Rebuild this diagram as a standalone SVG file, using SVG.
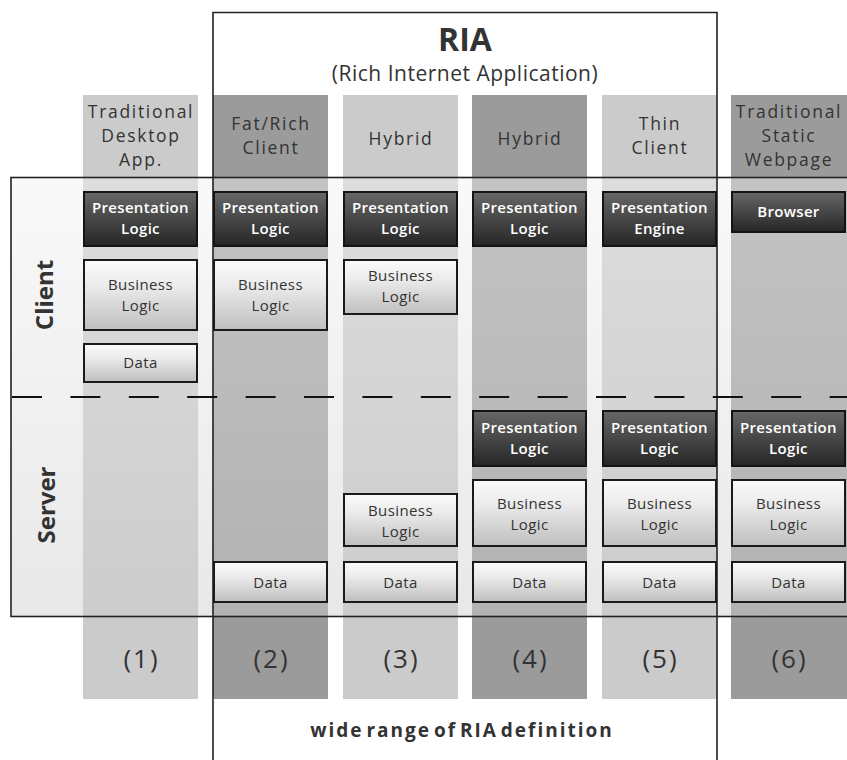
<svg xmlns="http://www.w3.org/2000/svg" width="847" height="760" viewBox="0 0 847 760">
  <defs>
    <linearGradient id="gDark" x1="0" y1="0" x2="0" y2="1">
      <stop offset="0" stop-color="#676767"/>
      <stop offset="1" stop-color="#262626"/>
    </linearGradient>
    <linearGradient id="gLight" x1="0" y1="0" x2="0" y2="1">
      <stop offset="0" stop-color="#fbfbfb"/>
      <stop offset="0.35" stop-color="#ececec"/>
      <stop offset="1" stop-color="#bfbfbf"/>
    </linearGradient>
    <linearGradient id="gTier" x1="0" y1="0" x2="0" y2="1">
      <stop offset="0" stop-color="#f2f2f2" stop-opacity="0.46"/>
      <stop offset="1" stop-color="#cdcdcd" stop-opacity="0.46"/>
    </linearGradient>
    <style>
      .colL { fill:#cbcbcb; }
      .colD { fill:#9b9b9b; }
      .dk { fill:url(#gDark); stroke:#141414; stroke-width:2; }
      .lt { fill:url(#gLight); stroke:#1a1a1a; stroke-width:2; }
      .frame { fill:none; stroke:#222; stroke-width:1.6; }
      .sans { font-family:"Open Sans","Noto Sans","Liberation Sans",sans-serif; text-anchor:middle; }
      .hd { font-size:17.5px; fill:#333; letter-spacing:1.7px; }
      .tw { font-size:15px; fill:#fff; font-weight:600; letter-spacing:0.3px; }
      .tb { font-size:15px; fill:#333; letter-spacing:0.4px; }
      .num { font-size:26px; fill:#333; letter-spacing:2px; }
      .tier { font-size:24px; font-weight:bold; fill:#333; }
    </style>
  </defs>

  <rect width="847" height="760" fill="#fff"/>

  <!-- column bands (header, tiers, footer) -->
  <g id="columns">
    <rect class="colL" x="83" y="95" width="115" height="604"/>
    <rect class="colD" x="213" y="95" width="115" height="604"/>
    <rect class="colL" x="343" y="95" width="115" height="604"/>
    <rect class="colD" x="472" y="95" width="115" height="604"/>
    <rect class="colL" x="602" y="95" width="115" height="604"/>
    <rect class="colD" x="731" y="95" width="116" height="604"/>
  </g>

  <!-- client / server tier panel -->
  <g id="tiers">
    <rect x="11" y="177.5" width="840" height="439" fill="url(#gTier)" stroke="#222" stroke-width="1.6"/>
    <text class="sans tier" transform="translate(53,295) rotate(-90)">Client</text>
    <text class="sans tier" transform="translate(55,505) rotate(-90)">Server</text>
  </g>

  <!-- RIA bracket -->
  <g id="ria">
    <path class="frame" d="M213,760 V12.5 H717 V760"/>
    <text class="sans" x="465" y="51" font-size="32" font-weight="bold" fill="#333">RIA</text>
    <text class="sans" x="465" y="81" font-size="21" fill="#333" letter-spacing="0.5">(Rich Internet Application)</text>
  </g>

  <!-- column headings -->
  <g id="headings" class="sans hd">
    <text x="141" y="118">Traditional</text>
    <text x="141" y="142">Desktop</text>
    <text x="141" y="166">App.</text>
    <text x="271" y="130">Fat/Rich</text>
    <text x="271" y="154">Client</text>
    <text x="401" y="145">Hybrid</text>
    <text x="530" y="145">Hybrid</text>
    <text x="660" y="130">Thin</text>
    <text x="660" y="154">Client</text>
    <text x="789" y="118">Traditional</text>
    <text x="789" y="142">Static</text>
    <text x="789" y="166">Webpage</text>
  </g>

  <!-- client / server divider -->
  <g id="connectors">
    <line x1="12" y1="397" x2="847" y2="397" stroke="#111" stroke-width="2" stroke-dasharray="30 28.4"/>
  </g>

  <!-- (1) Traditional Desktop App -->
  <g id="col1">
    <rect class="dk" x="84" y="192" width="113" height="54"/>
    <text class="sans tw" x="140.5" y="213">Presentation</text>
    <text class="sans tw" x="140.5" y="234">Logic</text>
    <rect class="lt" x="84" y="260" width="113" height="70"/>
    <text class="sans tb" x="140.5" y="290">Business</text>
    <text class="sans tb" x="140.5" y="311">Logic</text>
    <rect class="lt" x="84" y="344" width="113" height="38"/>
    <text class="sans tb" x="140.5" y="368">Data</text>
  </g>

  <!-- (2) Fat/Rich Client -->
  <g id="col2">
    <rect class="dk" x="214" y="192" width="113" height="54"/>
    <text class="sans tw" x="270.5" y="213">Presentation</text>
    <text class="sans tw" x="270.5" y="234">Logic</text>
    <rect class="lt" x="214" y="260" width="113" height="70"/>
    <text class="sans tb" x="270.5" y="290">Business</text>
    <text class="sans tb" x="270.5" y="311">Logic</text>
    <rect class="lt" x="214" y="562" width="113" height="40"/>
    <text class="sans tb" x="270.5" y="588">Data</text>
  </g>

  <!-- (3) Hybrid -->
  <g id="col3">
    <rect class="dk" x="344" y="192" width="113" height="54"/>
    <text class="sans tw" x="400.5" y="213">Presentation</text>
    <text class="sans tw" x="400.5" y="234">Logic</text>
    <rect class="lt" x="344" y="260" width="113" height="54"/>
    <text class="sans tb" x="400.5" y="281">Business</text>
    <text class="sans tb" x="400.5" y="302">Logic</text>
    <rect class="lt" x="344" y="494" width="113" height="52"/>
    <text class="sans tb" x="400.5" y="516">Business</text>
    <text class="sans tb" x="400.5" y="537">Logic</text>
    <rect class="lt" x="344" y="562" width="113" height="40"/>
    <text class="sans tb" x="400.5" y="588">Data</text>
  </g>

  <!-- (4) Hybrid -->
  <g id="col4">
    <rect class="dk" x="473" y="192" width="113" height="54"/>
    <text class="sans tw" x="529.5" y="213">Presentation</text>
    <text class="sans tw" x="529.5" y="234">Logic</text>
    <rect class="dk" x="473" y="411" width="113" height="55"/>
    <text class="sans tw" x="529.5" y="433">Presentation</text>
    <text class="sans tw" x="529.5" y="454">Logic</text>
    <rect class="lt" x="473" y="480" width="113" height="66"/>
    <text class="sans tb" x="529.5" y="509">Business</text>
    <text class="sans tb" x="529.5" y="530">Logic</text>
    <rect class="lt" x="473" y="562" width="113" height="40"/>
    <text class="sans tb" x="529.5" y="588">Data</text>
  </g>

  <!-- (5) Thin Client -->
  <g id="col5">
    <rect class="dk" x="603" y="192" width="113" height="54"/>
    <text class="sans tw" x="659.5" y="213">Presentation</text>
    <text class="sans tw" x="659.5" y="234">Engine</text>
    <rect class="dk" x="603" y="411" width="113" height="55"/>
    <text class="sans tw" x="659.5" y="433">Presentation</text>
    <text class="sans tw" x="659.5" y="454">Logic</text>
    <rect class="lt" x="603" y="480" width="113" height="66"/>
    <text class="sans tb" x="659.5" y="509">Business</text>
    <text class="sans tb" x="659.5" y="530">Logic</text>
    <rect class="lt" x="603" y="562" width="113" height="40"/>
    <text class="sans tb" x="659.5" y="588">Data</text>
  </g>

  <!-- (6) Traditional Static Webpage -->
  <g id="col6">
    <rect class="dk" x="732" y="192" width="113" height="40"/>
    <text class="sans tw" x="788.5" y="217">Browser</text>
    <rect class="dk" x="732" y="411" width="113" height="55"/>
    <text class="sans tw" x="788.5" y="433">Presentation</text>
    <text class="sans tw" x="788.5" y="454">Logic</text>
    <rect class="lt" x="732" y="480" width="113" height="66"/>
    <text class="sans tb" x="788.5" y="509">Business</text>
    <text class="sans tb" x="788.5" y="530">Logic</text>
    <rect class="lt" x="732" y="562" width="113" height="40"/>
    <text class="sans tb" x="788.5" y="588">Data</text>
  </g>

  <!-- footer numbering -->
  <g id="numbers" class="sans num">
    <text x="141.5" y="668">(1)</text>
    <text x="271.5" y="668">(2)</text>
    <text x="401.5" y="668">(3)</text>
    <text x="530.5" y="668">(4)</text>
    <text x="660.5" y="668">(5)</text>
    <text x="789.5" y="668">(6)</text>
  </g>

  <g id="caption">
    <text class="sans" x="462" y="737" font-size="19" font-weight="bold" fill="#333" letter-spacing="2" word-spacing="-4">wide range of RIA definition</text>
  </g>
</svg>
